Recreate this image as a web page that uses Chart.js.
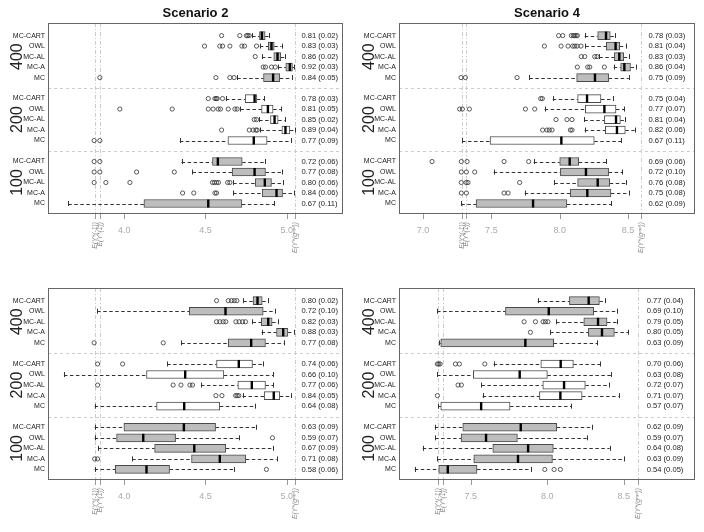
<!DOCTYPE html>
<html><head><meta charset="utf-8">
<script src="https://cdn.jsdelivr.net/npm/chart.js@4.4.1/dist/chart.umd.min.js"></script>
<style>
html,body{margin:0;padding:0;background:#fff;}
#wrap{position:relative;width:704px;height:532px;overflow:hidden;background:#fff}
canvas{position:absolute;}
</style></head><body>
<div id="wrap">
<canvas id="p1" width="352" height="266" style="left:0;top:0;width:352px;height:266px"></canvas>
<canvas id="p2" width="352" height="266" style="left:352px;top:0;width:352px;height:266px"></canvas>
<canvas id="p3" width="352" height="266" style="left:0;top:266px;width:352px;height:266px"></canvas>
<canvas id="p4" width="352" height="266" style="left:352px;top:266px;width:352px;height:266px"></canvas>
</div>
<script>
// ---------- categories ----------
const methodNames = ["MC-CART", "OWL", "MC-AL", "MC-A", "MC"];
const sampleSizes = ["400", "200", "100"];
const scenarioTitles = ["Scenario 2", "Scenario 4"];

// ---------- tick labels / reference values ----------
const scen2Ticks = [4.0, 4.5, 5.0];
const scen4TopTicks = [7.0, 7.5, 8.0, 8.5];
const scen4BottomTicks = [7.5, 8.0, 8.5];
const scen2RefLines = [3.818, 3.851];
const scen2OptLine = 5.053;
const scen4RefLines = [7.285, 7.317];
const scen4OptLine = 8.593;
const refLabels = ["E(Y*(-1))", "E(Y*(1))"];
const optLabel = "E(Y*(g\u1D52\u1D56\u1D57))";

// ---------- box stats: [lower whisker, Q1, median, Q3, upper whisker], order 400,200,100 x methods ----------
const scen2TopBoxes = [
  [4.787,4.832,4.847,4.867,4.888],[4.834,4.886,4.906,4.923,4.968],[4.847,4.920,4.943,4.963,4.992],[4.947,4.994,5.019,5.035,5.046],[4.695,4.857,4.916,4.957,5.031],
  [4.625,4.744,4.802,4.816,4.861],[4.715,4.845,4.884,4.916,4.964],[4.830,4.900,4.925,4.947,4.988],[4.838,4.970,4.992,5.019,5.048],[4.342,4.638,4.797,4.879,5.025],
  [4.353,4.543,4.576,4.726,4.865],[4.420,4.664,4.802,4.869,4.970],[4.670,4.806,4.865,4.906,4.974],[4.670,4.849,4.937,4.974,5.043],[3.656,4.121,4.517,4.724,4.922]
];
const scen2TopOutliers = [
  [4.599,4.711,4.752,4.760,4.769],[4.494,4.588,4.605,4.650,4.724,4.740,4.814],[4.806],[4.855,4.869,4.906,4.929],[3.850,4.564,4.650,4.676],
  [4.517,4.558,4.566,4.572,4.605],[3.973,4.295,4.517,4.547,4.578,4.592,4.640,4.681,4.695],[4.800,4.814],[4.599,4.769,4.793,4.810,4.818],[3.815,3.850],
  [3.815,3.850],[3.815,3.850,4.076,4.308],[3.815,3.887,4.035,4.543,4.555,4.568,4.580,4.636,4.650],[4.359,4.428,4.558,4.568],[]
];
const scen2TopAccuracy = [
  "0.81 (0.02)","0.83 (0.03)","0.86 (0.02)","0.92 (0.03)","0.84 (0.05)",
  "0.78 (0.03)","0.81 (0.05)","0.85 (0.02)","0.89 (0.04)","0.77 (0.09)",
  "0.72 (0.06)","0.77 (0.08)","0.80 (0.06)","0.84 (0.06)","0.67 (0.11)"
];

const scen4TopBoxes = [
  [8.183,8.278,8.339,8.370,8.402],[8.188,8.341,8.409,8.439,8.484],[8.290,8.400,8.436,8.468,8.505],[8.395,8.446,8.473,8.518,8.561],[7.778,8.124,8.258,8.358,8.505],
  [7.949,8.131,8.200,8.302,8.392],[7.890,8.187,8.327,8.412,8.473],[8.180,8.327,8.412,8.444,8.480],[8.183,8.334,8.419,8.480,8.548],[7.285,7.490,8.012,8.253,8.451],
  [7.810,8.000,8.073,8.139,8.339],[7.517,8.005,8.192,8.358,8.456],[7.961,8.131,8.278,8.366,8.484],[7.744,8.078,8.202,8.375,8.509],[7.280,7.388,7.805,8.053,8.375]
];
const scen4TopOutliers = [
  [7.992,8.022,8.085,8.100,8.109,8.120,8.129],[7.888,8.010,8.061,8.095,8.110,8.127,8.156],[8.158,8.183,8.256,8.273],[8.129,8.205,8.220,8.327],[7.278,7.310,7.688],
  [7.861,7.873],[7.268,7.288,7.339,7.749,7.817],[7.973,8.053,8.090],[7.875,7.907,7.924,7.944,8.078,8.090],[],
  [7.066,7.280,7.322,7.593,7.773],[7.280,7.317,7.378],[7.280,7.315,7.329,7.707],[7.280,7.317,7.593,7.622],[]
];
const scen4TopAccuracy = [
  "0.78 (0.03)","0.81 (0.04)","0.83 (0.03)","0.86 (0.04)","0.75 (0.09)",
  "0.75 (0.04)","0.77 (0.07)","0.81 (0.04)","0.82 (0.06)","0.67 (0.11)",
  "0.69 (0.06)","0.72 (0.10)","0.76 (0.08)","0.75 (0.08)","0.62 (0.09)"
];

const scen2BottomBoxes = [
  [4.732,4.793,4.820,4.849,4.886],[3.834,4.400,4.623,4.855,4.927],[4.789,4.843,4.886,4.910,4.947],[4.845,4.937,4.978,5.007,5.043],[4.351,4.640,4.781,4.869,4.982],
  [4.264,4.568,4.705,4.789,4.855],[3.629,4.137,4.375,4.613,4.916],[4.472,4.699,4.785,4.869,4.916],[4.728,4.861,4.920,4.957,5.025],[3.818,4.199,4.369,4.588,4.806],
  [3.818,3.998,4.367,4.562,4.812],[3.818,3.953,4.117,4.316,4.705],[3.838,4.187,4.431,4.625,4.916],[4.049,4.414,4.588,4.748,4.937],[3.818,3.945,4.137,4.279,4.677]
];
const scen2BottomOutliers = [
  [4.568,4.640,4.660,4.677,4.693],[],[4.568,4.588,4.609,4.625,4.687,4.707,4.728,4.746],[],[3.815,4.240],
  [3.836,3.990],[],[3.836,4.301,4.349,4.404,4.420],[4.564,4.601,4.685,4.695,4.705],[],
  [],[4.912],[],[3.818,3.836],[4.875]
];
const scen2BottomAccuracy = [
  "0.80 (0.02)","0.72 (0.10)","0.82 (0.03)","0.88 (0.03)","0.77 (0.08)",
  "0.74 (0.06)","0.66 (0.10)","0.77 (0.06)","0.84 (0.05)","0.64 (0.08)",
  "0.63 (0.09)","0.59 (0.07)","0.67 (0.09)","0.71 (0.08)","0.58 (0.06)"
];

const scen4BottomBoxes = [
  [7.938,8.145,8.271,8.341,8.380],[7.280,7.727,8.010,8.304,8.456],[8.058,8.239,8.332,8.391,8.456],[8.019,8.269,8.358,8.439,8.528],[7.295,7.304,7.857,8.042,8.328],
  [7.650,7.958,8.088,8.171,8.345],[7.280,7.517,7.820,8.001,8.417],[7.570,7.971,8.110,8.249,8.406],[7.578,7.949,8.086,8.228,8.467],[7.286,7.304,7.568,7.757,8.158],
  [7.265,7.448,7.827,8.062,8.293],[7.267,7.437,7.600,7.805,8.258],[7.186,7.644,7.875,8.040,8.408],[7.282,7.520,7.809,8.034,8.504],[7.134,7.291,7.350,7.541,7.897]
];
const scen4BottomOutliers = [
  [],[],[7.849,7.923,7.973,7.988,8.005],[7.890],[],
  [7.282,7.291,7.300,7.400,7.426,7.592],[],[7.417,7.439],[7.282],[],
  [],[],[],[],[7.984,8.045,8.086]
];
const scen4BottomAccuracy = [
  "0.77 (0.04)","0.69 (0.10)","0.79 (0.05)","0.80 (0.05)","0.63 (0.09)",
  "0.70 (0.06)","0.63 (0.08)","0.72 (0.07)","0.71 (0.07)","0.57 (0.07)",
  "0.62 (0.09)","0.59 (0.07)","0.64 (0.08)","0.63 (0.09)","0.54 (0.05)"
];

// ---------- helpers ----------
function rowPos(i) { return Math.floor(i / 5) * 6 + (i % 5) + 1; }
const FONT = "'Liberation Sans', Arial, 'DejaVu Sans', sans-serif";

const boxPlugin = {
  id: 'boxExtras',
  beforeDatasetsDraw(chart, args, o) {
    const ctx = chart.ctx, a = chart.chartArea, xs = chart.scales.x, ys = chart.scales.y;
    ctx.save();
    ctx.lineWidth = 1;
    ctx.strokeStyle = '#cccccc';
    ctx.setLineDash([3, 3]);
    [6, 12].forEach(p => {
      const py = Math.round(ys.getPixelForValue(p)) + 0.5;
      ctx.beginPath(); ctx.moveTo(a.left, py); ctx.lineTo(a.right, py); ctx.stroke();
    });
    ctx.setLineDash([4, 2, 1, 2]);
    o.refLines.concat([o.optLine]).forEach(v => {
      const px = Math.round(xs.getPixelForValue(v)) + 0.5;
      ctx.beginPath(); ctx.moveTo(px, a.top); ctx.lineTo(px, a.bottom); ctx.stroke();
    });
    ctx.strokeStyle = '#333';
    ctx.setLineDash([3.5, 2.5]);
    o.boxes.forEach((b, i) => {
      const py = Math.round(ys.getPixelForValue(rowPos(i))) + 0.5;
      ctx.beginPath();
      ctx.moveTo(xs.getPixelForValue(b[0]), py); ctx.lineTo(xs.getPixelForValue(b[1]), py);
      ctx.moveTo(xs.getPixelForValue(b[3]), py); ctx.lineTo(xs.getPixelForValue(b[4]), py);
      ctx.stroke();
    });
    ctx.setLineDash([]);
    o.boxes.forEach((b, i) => {
      const py = ys.getPixelForValue(rowPos(i));
      [b[0], b[4]].forEach(v => {
        const px = Math.round(xs.getPixelForValue(v)) + 0.5;
        ctx.beginPath(); ctx.moveTo(px, py - 2.5); ctx.lineTo(px, py + 2.5); ctx.stroke();
      });
    });
    ctx.restore();
  },
  afterDatasetsDraw(chart, args, o) {
    const ctx = chart.ctx, xs = chart.scales.x, ys = chart.scales.y;
    ctx.save();
    ctx.strokeStyle = '#000';
    ctx.lineWidth = 2.4;
    o.boxes.forEach((b, i) => {
      const py = ys.getPixelForValue(rowPos(i));
      const px = xs.getPixelForValue(b[2]);
      ctx.beginPath(); ctx.moveTo(px, py - 4); ctx.lineTo(px, py + 4); ctx.stroke();
    });
    ctx.restore();
  },
  afterDraw(chart, args, o) {
    const ctx = chart.ctx, a = chart.chartArea, xs = chart.scales.x, ys = chart.scales.y;
    ctx.save();
    // frame
    ctx.strokeStyle = '#666'; ctx.lineWidth = 1;
    ctx.strokeRect(a.left + 0.5, a.top + 0.5, a.width - 1, a.height - 1);
    // tick marks
    ctx.strokeStyle = '#9a9a9a';
    o.ticks.concat(o.refLines, [o.optLine]).forEach(v => {
      const px = Math.round(xs.getPixelForValue(v)) + 0.5;
      ctx.beginPath(); ctx.moveTo(px, a.bottom); ctx.lineTo(px, a.bottom + 5); ctx.stroke();
    });
    // tick labels
    ctx.fillStyle = '#aaaaaa';
    ctx.font = '9px ' + FONT;
    ctx.textAlign = 'center'; ctx.textBaseline = 'middle';
    o.ticks.forEach(v => {
      ctx.fillText(v.toFixed(1), xs.getPixelForValue(v), a.bottom + 17);
    });
    // reference labels (rotated)
    ctx.fillStyle = '#888888';
    ctx.font = 'italic 6.8px ' + FONT;
    ctx.textAlign = 'right';
    const refs = o.refLines.map((v, k) => [v, refLabels[k]]).concat([[o.optLine, optLabel]]);
    refs.forEach(([v, t]) => {
      ctx.save();
      ctx.translate(xs.getPixelForValue(v), a.bottom + 8);
      ctx.rotate(-Math.PI / 2);
      ctx.fillText(t, 0, 0);
      ctx.restore();
    });
    // method labels
    ctx.fillStyle = '#222';
    ctx.font = '7px ' + FONT;
    ctx.textAlign = 'right';
    o.boxes.forEach((b, i) => {
      ctx.fillText(methodNames[i % 5], a.left - 3, ys.getPixelForValue(rowPos(i)));
    });
    // accuracy texts
    ctx.font = '7.6px ' + FONT;
    ctx.textAlign = 'left';
    o.texts.forEach((t, i) => {
      ctx.fillText(t, xs.getPixelForValue(o.textX), ys.getPixelForValue(rowPos(i)));
    });
    // group labels
    ctx.font = '16px ' + FONT;
    ctx.textAlign = 'center';
    sampleSizes.forEach((s, g) => {
      ctx.save();
      ctx.translate(18, ys.getPixelForValue(g * 6 + 3));
      ctx.rotate(-Math.PI / 2);
      ctx.fillText(s, 0, 0);
      ctx.restore();
    });
    // title
    if (o.title) {
      ctx.font = 'bold 13px ' + FONT;
      ctx.fillStyle = '#111';
      ctx.fillText(o.title, (a.left + a.right) / 2, 13);
    }
    ctx.restore();
  }
};

function buildPanel(id, p) {
  const bars = [], fills = [], pts = [];
  p.boxes.forEach((b, i) => {
    const pos = rowPos(i);
    bars.push({ x: [b[1], b[3]], y: pos });
    fills.push(Math.floor(i / 5) === 1 ? '#ffffff' : '#bdbdbd');
    p.outliers[i].forEach(v => pts.push({ x: v, y: pos }));
  });
  new Chart(document.getElementById(id), {
    type: 'bar',
    data: {
      datasets: [
        { type: 'scatter', data: pts, order: 0, pointStyle: 'circle', pointRadius: 2.1,
          pointBorderWidth: 0.8, pointBorderColor: '#333', pointBackgroundColor: 'rgba(0,0,0,0)' },
        { type: 'bar', data: bars, order: 1, backgroundColor: fills, borderColor: '#4a4a4a',
          borderWidth: 1, borderSkipped: false, barThickness: 8 }
      ]
    },
    options: {
      indexAxis: 'y', responsive: false, animation: false, events: [], devicePixelRatio: 1,
      layout: { padding: p.padding },
      scales: {
        x: { type: 'linear', min: p.xmin, max: p.xmax, display: false, beginAtZero: false },
        y: { type: 'linear', min: -0.2, max: 18, reverse: true, display: false, offset: false }
      },
      plugins: {
        legend: { display: false }, tooltip: { enabled: false }, title: { display: false },
        boxExtras: { boxes: p.boxes, texts: p.texts, ticks: p.ticks, refLines: p.refLines,
          optLine: p.optLine, textX: p.textX, title: p.title }
      }
    },
    plugins: [boxPlugin]
  });
}

buildPanel('p1', { boxes: scen2TopBoxes, outliers: scen2TopOutliers, texts: scen2TopAccuracy,
  ticks: scen2Ticks, refLines: scen2RefLines, optLine: scen2OptLine, textX: 5.09,
  xmin: 3.531, xmax: 5.346, title: scenarioTitles[0], padding: { left: 48, top: 23, right: 9, bottom: 52 } });
buildPanel('p2', { boxes: scen4TopBoxes, outliers: scen4TopOutliers, texts: scen4TopAccuracy,
  ticks: scen4TopTicks, refLines: scen4RefLines, optLine: scen4OptLine, textX: 8.65,
  xmin: 6.824, xmax: 8.99, title: scenarioTitles[1], padding: { left: 47, top: 23, right: 9, bottom: 52 } });
buildPanel('p3', { boxes: scen2BottomBoxes, outliers: scen2BottomOutliers, texts: scen2BottomAccuracy,
  ticks: scen2Ticks, refLines: scen2RefLines, optLine: scen2OptLine, textX: 5.09,
  xmin: 3.531, xmax: 5.346, title: null, padding: { left: 48, top: 22, right: 9, bottom: 52 } });
buildPanel('p4', { boxes: scen4BottomBoxes, outliers: scen4BottomOutliers, texts: scen4BottomAccuracy,
  ticks: scen4BottomTicks, refLines: scen4RefLines, optLine: scen4OptLine, textX: 8.65,
  xmin: 7.031, xmax: 8.966, title: null, padding: { left: 47, top: 22, right: 9, bottom: 52 } });
</script>
</body></html>
